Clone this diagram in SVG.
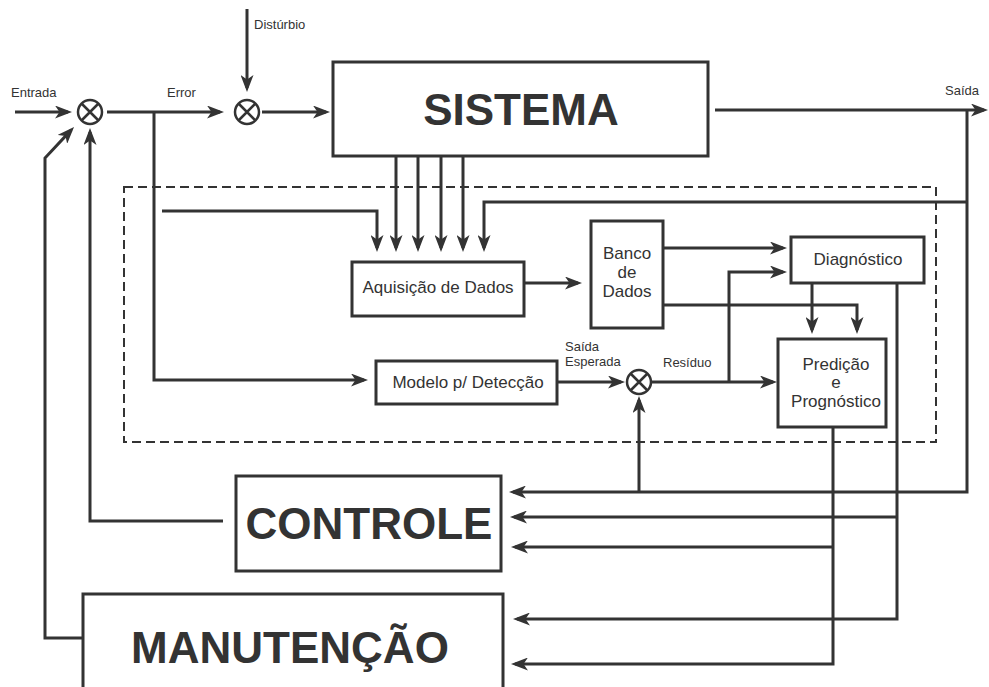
<svg xmlns="http://www.w3.org/2000/svg" width="989" height="687" viewBox="0 0 989 687">
  <style>
    .box { fill: #fff; stroke: #333; stroke-width: 3; }
    .sum { fill: #fff; stroke: #333; stroke-width: 2.5; }
    .cx { stroke: #333; stroke-width: 2.5; }
    .wire { fill: none; stroke: #333; stroke-width: 3; marker-end: url(#ah); }
    .frame { fill: none; stroke: #333; stroke-width: 2; stroke-dasharray: 9 5; }
    text { font-family: "Liberation Sans", Arial, sans-serif; fill: #333; }
    .big { font-size: 44px; font-weight: bold; text-anchor: middle; }
    .mid { font-size: 17px; text-anchor: middle; }
    .small { font-size: 13px; }
  </style>
  <defs>
    <!-- notched arrowhead; tip sits 4px past the path end -->
    <marker id="ah" viewBox="0 0 17 13" refX="13" refY="6.5" markerWidth="17" markerHeight="13" markerUnits="userSpaceOnUse" orient="auto">
      <path d="M0,0 L17,6.5 L0,13 L4.5,6.5 z" fill="#333"/>
    </marker>
  </defs>

  <rect width="989" height="687" fill="#fff"/>

  <!-- dashed boundary of the monitoring subsystem -->
  <rect id="monitoring-frame" class="frame" x="124" y="187" width="812" height="255"/>

  <g id="connectors">
    <path class="wire" d="M15,112 H68"/>
    <path class="wire" d="M107,112 H220"/>
    <path class="wire" d="M262,112 H326"/>
    <path class="wire" d="M247,9 V88"/>
    <path class="wire" d="M715,110 H984"/>
    <path class="wire" d="M967,110 V492 H513"/>
    <path class="wire" d="M639,492 V400"/>
    <path class="wire" d="M967,202 H484 V248"/>
    <path class="wire" d="M154,112 V380 H364"/>
    <path class="wire" d="M162,211 H377 V248"/>
    <path class="wire" d="M396,156 V248"/>
    <path class="wire" d="M418,156 V248"/>
    <path class="wire" d="M441,156 V248"/>
    <path class="wire" d="M463,156 V248"/>
    <path class="wire" d="M524,283 H578"/>
    <path class="wire" d="M663,248 H783"/>
    <path class="wire" d="M663,305 H857 V330"/>
    <path class="wire" d="M812,283 V330"/>
    <path class="wire" d="M557,382 H621"/>
    <path class="wire" d="M651,382 H773"/>
    <path class="wire" d="M729,382 V272 H783"/>
    <path class="wire" d="M897,283 V619 H517"/>
    <path class="wire" d="M897,517 H514"/>
    <path class="wire" d="M833,427 V664 H515"/>
    <path class="wire" d="M833,547 H515"/>
    <path class="wire" d="M223,521 H90 V132"/>
    <path class="wire" d="M83,638 H45 V158 L71.3,129.9"/>
  </g>

  <!-- edge labels -->
  <g id="labels">
    <text class="small" x="11" y="97">Entrada</text>
    <text class="small" x="167" y="97">Error</text>
    <text class="small" x="254" y="29">Distúrbio</text>
    <text class="small" x="945" y="95">Saída</text>
    <text class="small" x="565" y="351">Saída</text>
    <text class="small" x="565" y="366">Esperada</text>
    <text class="small" x="663" y="367">Resíduo</text>
  </g>

  <g id="sum-input">
    <circle class="sum" cx="90" cy="112" r="12"/>
    <path class="cx" d="M81.5,103.5 L98.5,120.5 M98.5,103.5 L81.5,120.5"/>
  </g>
  <g id="sum-disturbance">
    <circle class="sum" cx="247" cy="112" r="12"/>
    <path class="cx" d="M238.5,103.5 L255.5,120.5 M255.5,103.5 L238.5,120.5"/>
  </g>
  <g id="sum-residual">
    <circle class="sum" cx="639" cy="382" r="12"/>
    <path class="cx" d="M630.5,373.5 L647.5,390.5 M647.5,373.5 L630.5,390.5"/>
  </g>

  <g id="sistema">
    <rect class="box" x="333" y="62" width="375" height="94"/>
    <text class="big" x="521" y="125">SISTEMA</text>
  </g>

  <g id="aquisicao">
    <rect class="box" x="352" y="262" width="172" height="54"/>
    <text class="mid" x="438" y="293">Aquisição de Dados</text>
  </g>

  <g id="banco">
    <rect class="box" x="591" y="221" width="72" height="107"/>
    <text class="mid" x="627" y="259">Banco</text>
    <text class="mid" x="627" y="278">de</text>
    <text class="mid" x="627" y="297">Dados</text>
  </g>

  <g id="diagnostico">
    <rect class="box" x="791" y="237" width="133" height="46"/>
    <text class="mid" x="858" y="265">Diagnóstico</text>
  </g>

  <g id="predicao">
    <rect class="box" x="778" y="339" width="108" height="88"/>
    <text class="mid" x="836" y="370">Predição</text>
    <text class="mid" x="836" y="388">e</text>
    <text class="mid" x="836" y="407">Prognóstico</text>
  </g>

  <g id="modelo">
    <rect class="box" x="376" y="361" width="181" height="43"/>
    <text class="mid" x="468" y="388">Modelo p/ Detecção</text>
  </g>

  <g id="controle">
    <rect class="box" x="236" y="476" width="265" height="95"/>
    <text class="big" x="369" y="539">CONTROLE</text>
  </g>

  <g id="manutencao">
    <rect class="box" x="83" y="594" width="420" height="110"/>
    <text class="big" x="290" y="663">MANUTENÇÃO</text>
  </g>
</svg>
